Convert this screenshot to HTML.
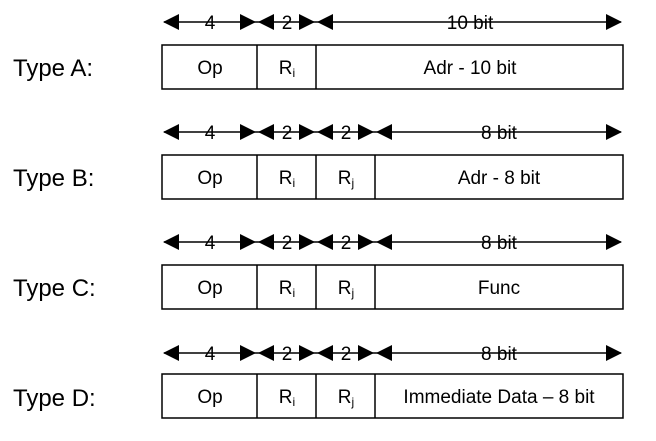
<!DOCTYPE html>
<html><head><style>body{margin:0;background:#fff}svg{display:block}text{font-family:"Liberation Sans",Arial,sans-serif;fill:#000}</style></head><body>
<svg width="656" height="441" viewBox="0 0 656 441" xmlns="http://www.w3.org/2000/svg">
<defs>
<g id="l"><path d="M0,0 L16,-8 L16,8z"/></g>
<g id="r"><path d="M0,0 L-16,-8 L-16,8z"/></g>
</defs>
<g stroke="#000" stroke-width="1.5" fill="none">
<line x1="164" y1="22" x2="621" y2="22"/>
<rect x="162" y="45" width="461" height="44"/>
<line x1="257" y1="45" x2="257" y2="89"/><line x1="316" y1="45" x2="316" y2="89"/>
<line x1="164" y1="132" x2="621" y2="132"/>
<rect x="162" y="155" width="461" height="44"/>
<line x1="257" y1="155" x2="257" y2="199"/><line x1="316" y1="155" x2="316" y2="199"/><line x1="375" y1="155" x2="375" y2="199"/>
<line x1="164" y1="242" x2="621" y2="242"/>
<rect x="162" y="265" width="461" height="44"/>
<line x1="257" y1="265" x2="257" y2="309"/><line x1="316" y1="265" x2="316" y2="309"/><line x1="375" y1="265" x2="375" y2="309"/>
<line x1="164" y1="353" x2="621" y2="353"/>
<rect x="162" y="374" width="461" height="44"/>
<line x1="257" y1="374" x2="257" y2="418"/><line x1="316" y1="374" x2="316" y2="418"/><line x1="375" y1="374" x2="375" y2="418"/>
</g>
<g fill="#000">
<use href="#l" x="163" y="22"/><use href="#r" x="256" y="22"/><use href="#l" x="258" y="22"/><use href="#r" x="315" y="22"/><use href="#l" x="317" y="22"/><use href="#r" x="622" y="22"/>
<use href="#l" x="163" y="132"/><use href="#r" x="256" y="132"/><use href="#l" x="258" y="132"/><use href="#r" x="315" y="132"/><use href="#l" x="317" y="132"/><use href="#r" x="374" y="132"/><use href="#l" x="376" y="132"/><use href="#r" x="622" y="132"/>
<use href="#l" x="163" y="242"/><use href="#r" x="256" y="242"/><use href="#l" x="258" y="242"/><use href="#r" x="315" y="242"/><use href="#l" x="317" y="242"/><use href="#r" x="374" y="242"/><use href="#l" x="376" y="242"/><use href="#r" x="622" y="242"/>
<use href="#l" x="163" y="353"/><use href="#r" x="256" y="353"/><use href="#l" x="258" y="353"/><use href="#r" x="315" y="353"/><use href="#l" x="317" y="353"/><use href="#r" x="374" y="353"/><use href="#l" x="376" y="353"/><use href="#r" x="622" y="353"/>
</g>
<g font-size="19" text-anchor="middle">
<text x="210" y="29">4</text><text x="287" y="29">2</text><text x="470" y="29">10 bit</text>
<text x="210" y="139">4</text><text x="287" y="139">2</text><text x="346" y="139">2</text><text x="499" y="139">8 bit</text>
<text x="210" y="249">4</text><text x="287" y="249">2</text><text x="346" y="249">2</text><text x="499" y="249">8 bit</text>
<text x="210" y="360">4</text><text x="287" y="360">2</text><text x="346" y="360">2</text><text x="499" y="360">8 bit</text>
</g>
<g font-size="24">
<text x="13" y="76">Type A:</text>
<text x="13" y="186">Type B:</text>
<text x="13" y="296">Type C:</text>
<text x="13" y="406">Type D:</text>
</g>
<g font-size="19" text-anchor="middle">
<text x="210" y="74">Op</text><text x="287" y="74">R<tspan font-size="12" dy="3">i</tspan></text><text x="470" y="74">Adr - 10 bit</text>
<text x="210" y="184">Op</text><text x="287" y="184">R<tspan font-size="12" dy="3">i</tspan></text><text x="346" y="184">R<tspan font-size="12" dy="3">j</tspan></text><text x="499" y="184">Adr - 8 bit</text>
<text x="210" y="294">Op</text><text x="287" y="294">R<tspan font-size="12" dy="3">i</tspan></text><text x="346" y="294">R<tspan font-size="12" dy="3">j</tspan></text><text x="499" y="294">Func</text>
<text x="210" y="403">Op</text><text x="287" y="403">R<tspan font-size="12" dy="3">i</tspan></text><text x="346" y="403">R<tspan font-size="12" dy="3">j</tspan></text><text x="499" y="403">Immediate Data – 8 bit</text>
</g>
</svg>
</body></html>
